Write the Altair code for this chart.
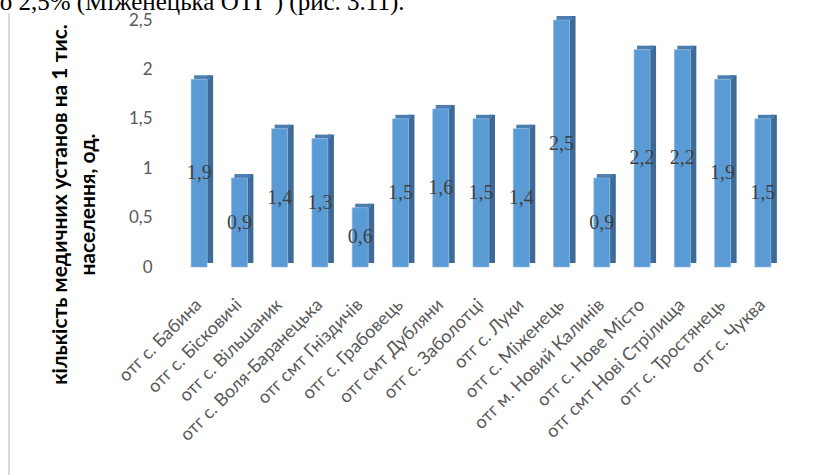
import altair as alt
import pandas as pd

# Medical institutions per 1,000 residents, by territorial community
communities = [
    "отг с. Бабина", "отг с. Бісковичі", "отг с. Вільшаник", "отг с. Воля-Баранецька",
    "отг смт Гніздичів", "отг с. Грабовець", "отг смт Дубляни", "отг с. Заболотці",
    "отг с. Луки", "отг с. Міженець", "отг м. Новий Калинів", "отг с. Нове Місто",
    "отг смт Нові Стрілища", "отг с. Тростянець", "отг с. Чуква",
]
values = [1.9, 0.9, 1.4, 1.3, 0.6, 1.5, 1.6, 1.5, 1.4, 2.5, 0.9, 2.2, 2.2, 1.9, 1.5]
y_title = ["кількість медичних установ на 1 тис.", "населення, од."]
caption = "до 2,5% (Міженецька ОТГ ) (рис. 3.11)."

df = pd.DataFrame({"community": communities, "value": values})
df["label"] = [f"{v:.1f}".replace(".", ",") for v in values]

W, H = 604, 247
LEFT, TOP = 179, 20
SANS = "Lato"

x = alt.X(
    "community:N", sort=None, title=None,
    scale=alt.Scale(paddingInner=0, paddingOuter=0),
    axis=alt.Axis(
        labelAngle=-45, labelAlign="right", labelBaseline="middle",
        labelFont=SANS, labelFontSize=18, labelColor="#595959",
        labelPadding=35, ticks=False, domain=False, labelOverlap=False,
        labelLimit=400,
    ),
)
y = alt.Y(
    "value:Q", title=y_title,
    scale=alt.Scale(domain=[0, 2.5], nice=False),
    axis=alt.Axis(
        values=[0, 0.5, 1, 1.5, 2, 2.5], grid=False, ticks=False, domain=False,
        labelExpr="replace(format(datum.value, '.1~f'), '.', ',')",
        labelFont=SANS, labelFontSize=17, labelColor="#595959", labelPadding=27,
        titleFont=SANS, titleFontSize=21, titleFontWeight="bold", titleColor="#000000",
        titleAngle=-90, titleAlign="center", titleBaseline="middle",
        titleX=-119, titleY=184, titleLineHeight=28,
    ),
)

base = alt.Chart(df)

# right-hand depth face of each column
side = base.mark_bar(width=6, xOffset=11, yOffset=-4, y2Offset=-4, color="#3D6A97").encode(
    x=x, y=y, y2=alt.datum(0)
)
# top face
top = base.mark_tick(size=16, thickness=4, xOffset=3, yOffset=-2, color="#4B7DB0", opacity=1).encode(
    x=x, y=y
)
# front face
front = base.mark_bar(width=16, color="#5B9BD5", stroke="#8DB9E4", strokeWidth=0.6).encode(
    x=x, y=y, y2=alt.datum(0)
)
labels = base.transform_calculate(mid="datum.value / 2").mark_text(
    font="Liberation Serif", fontSize=20, color="#404040", baseline="middle"
).encode(x=x, y=alt.Y("mid:Q"), text="label:N")

# frame edge on the left
frame = alt.Chart(df).mark_rule(color="#D9D9D9", strokeWidth=2).encode(
    x=alt.value(9 - LEFT), y=alt.value(13 - TOP), y2=alt.value(475 - TOP)
)
# running text line above the chart
cap = alt.Chart(pd.DataFrame({"t": [caption]})).mark_text(
    font="Liberation Serif", fontSize=25, color="#000000", align="left", baseline="alphabetic"
).encode(x=alt.value(-13 - LEFT), y=alt.value(10 - TOP), text="t:N")

chart = (
    alt.layer(frame, side, top, front, labels, cap)
    .properties(
        width=W, height=H,
        padding={"left": LEFT, "top": TOP, "right": 830 - LEFT - W, "bottom": 475 - TOP - H},
        autosize=alt.AutoSizeParams(type="none"),
        background="white",
    )
    .configure_view(stroke=None)
)

chart.save("out.html", embed_options={"renderer": "svg", "actions": False})
